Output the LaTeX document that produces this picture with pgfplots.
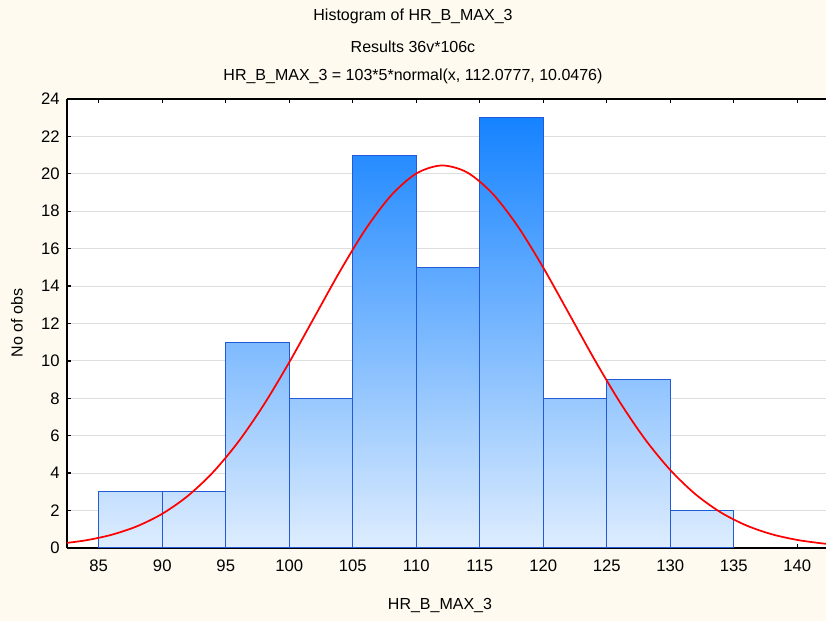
\documentclass[border=0pt]{standalone}
\usepackage{pgfplots}
\pgfplotsset{compat=1.18}
\usepackage{fontspec}
\setmainfont{Liberation Sans}
\definecolor{bg}{RGB}{254,250,240}
\definecolor{barLight}{RGB}{222,237,254}
\definecolor{barDark}{RGB}{12,126,255}
\definecolor{barEdge}{RGB}{35,90,215}
\definecolor{gridc}{RGB}{222,222,222}
\begin{document}
\begin{tikzpicture}
\fill[bg] (0,0) rectangle (619.5pt,465.75pt);
\begin{axis}[
  at={(50.25pt,54.75pt)}, anchor=south west,
  width=576pt, height=336.75pt, scale only axis,
  xmin=82.5, xmax=142.97, ymin=0, ymax=24,
  xtick={85,90,...,140}, ytick={0,2,...,24},
  axis x line*=box, axis y line*=left,
  tick align=inside, major tick length=3pt,
  xtick pos=both, ytick pos=left,
  every tick/.style={black, line width=1pt},
  axis line style={black, line width=1.4pt},
  axis background/.style={fill=white},
  ymajorgrids, grid style={gridc, line width=0.8pt},
  /pgf/number format/assume math mode=true,
  tick label style={font=\fontsize{12.5}{14}\selectfont},
  xticklabel style={yshift=-5.5pt},
  yticklabel style={xshift=-2pt},
]
\addplot[ybar interval, draw=barEdge, line width=0.9pt, top color=barDark!12.5!barLight, bottom color=barLight] coordinates {(85,3) (90,3)};
\addplot[ybar interval, draw=barEdge, line width=0.9pt, top color=barDark!12.5!barLight, bottom color=barLight] coordinates {(90,3) (95,3)};
\addplot[ybar interval, draw=barEdge, line width=0.9pt, top color=barDark!45.8!barLight, bottom color=barLight] coordinates {(95,11) (100,11)};
\addplot[ybar interval, draw=barEdge, line width=0.9pt, top color=barDark!33.3!barLight, bottom color=barLight] coordinates {(100,8) (105,8)};
\addplot[ybar interval, draw=barEdge, line width=0.9pt, top color=barDark!87.5!barLight, bottom color=barLight] coordinates {(105,21) (110,21)};
\addplot[ybar interval, draw=barEdge, line width=0.9pt, top color=barDark!62.5!barLight, bottom color=barLight] coordinates {(110,15) (115,15)};
\addplot[ybar interval, draw=barEdge, line width=0.9pt, top color=barDark!95.8!barLight, bottom color=barLight] coordinates {(115,23) (120,23)};
\addplot[ybar interval, draw=barEdge, line width=0.9pt, top color=barDark!33.3!barLight, bottom color=barLight] coordinates {(120,8) (125,8)};
\addplot[ybar interval, draw=barEdge, line width=0.9pt, top color=barDark!37.5!barLight, bottom color=barLight] coordinates {(125,9) (130,9)};
\addplot[ybar interval, draw=barEdge, line width=0.9pt, top color=barDark!8.3!barLight, bottom color=barLight] coordinates {(130,2) (135,2)};
\addplot[red, line width=1.3pt, smooth, no marks] coordinates {
(82,0.2316) (84,0.4120) (86,0.7044) (88,1.158) (90,1.829) (92,2.777)
(94,4.052) (96,5.684) (98,7.662) (100,9.928) (102,12.365) (104,14.801)
(106,17.029) (108,18.831) (110,20.016) (112,20.447) (114,20.077) (116,18.948)
(118,17.187) (120,14.985) (122,12.557) (124,10.114) (126,7.829) (128,5.826)
(130,4.167) (132,2.864) (134,1.893) (136,1.202) (138,0.7333) (140,0.4302)
(142,0.2426) (143,0.1795)};
\end{axis}
\node[font=\fontsize{12}{14}\selectfont] at (309.75pt,453.75pt) {Histogram of HR\_B\_MAX\_3};
\node[font=\fontsize{12}{14}\selectfont] at (309.75pt,430.5pt) {Results 36v*106c};
\node[font=\fontsize{12}{14}\selectfont] at (309.75pt,408.75pt) {HR\_B\_MAX\_3 = 103*5*normal(x, 112.0777, 10.0476)};
\node[font=\fontsize{12}{14}\selectfont] at (330pt,11.75pt) {HR\_B\_MAX\_3};
\node[font=\fontsize{12}{14}\selectfont, rotate=90] at (12.75pt,223.5pt) {No of obs};
\pgfresetboundingbox
\useasboundingbox (0,0) rectangle (619.5pt,465.75pt);
\end{tikzpicture}
\end{document}
